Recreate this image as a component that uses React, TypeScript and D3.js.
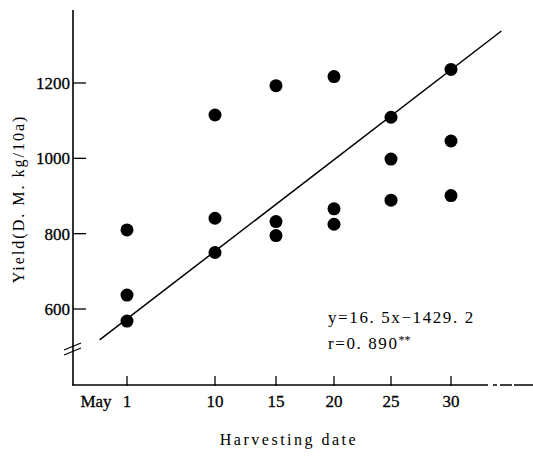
import React, { useEffect, useRef } from 'react';
import * as d3 from 'd3';

// harvesting day in May and yield (D.M. kg/10a)
const days = [1, 1, 1, 10, 10, 10, 15, 15, 15, 20, 20, 20, 25, 25, 25, 30, 30, 30];
const yields = [810, 637, 568, 1115, 841, 750, 1193, 832, 795, 1217, 866, 825, 1109, 998, 889, 1236, 1046, 901];

const xTicks = [1, 10, 15, 20, 25, 30];
const yTicks = [600, 800, 1000, 1200];

// regression line as drawn on the figure
const fitX = [-1.8, 34.2];
const fitY = [518, 1338];

const equation = 'y=16. 5x\u22121429. 2';
const corr = 'r=0. 890';
const signif = '**';

export default function App() {
  const svgRef = useRef<SVGSVGElement>(null);

  useEffect(() => {
    const svg = d3.select(svgRef.current);
    svg.selectAll('*').remove();

    const font = '"Liberation Serif", "DejaVu Serif", serif';

    // the printed x axis is not evenly spaced
    const x = d3.scaleLinear()
      .domain(xTicks)
      .range([127, 215, 276, 334, 391, 451]);
    const y = d3.scaleLinear().domain([600, 1200]).range([309, 83]);

    const axisX = 73;
    const axisY = 385;

    // y axis
    svg.append('line')
      .attr('x1', axisX).attr('x2', axisX)
      .attr('y1', 10).attr('y2', axisY)
      .attr('stroke', '#000').attr('stroke-width', 1.6);

    svg.selectAll('.ytick')
      .data(yTicks)
      .join('line')
      .attr('x1', axisX).attr('x2', axisX + 13)
      .attr('y1', d => y(d)).attr('y2', d => y(d))
      .attr('stroke', '#000').attr('stroke-width', 1.3);

    svg.selectAll('.ylab')
      .data(yTicks)
      .join('text')
      .attr('x', axisX - 3)
      .attr('y', d => y(d) + 6)
      .attr('text-anchor', 'end')
      .style('font-family', font)
      .style('font-size', '17px')
      .style('stroke', '#000').style('stroke-width', 0.3)
      .text(d => d);

    // axis break
    [0, 5].forEach(off => {
      svg.append('line')
        .attr('x1', 64).attr('y1', 350 + off)
        .attr('x2', 81).attr('y2', 343 + off)
        .attr('stroke', '#000').attr('stroke-width', 1.2);
    });

    // x axis
    svg.append('line')
      .attr('x1', axisX - 1).attr('x2', 485)
      .attr('y1', axisY).attr('y2', axisY)
      .attr('stroke', '#000').attr('stroke-width', 1.6);
    svg.append('line')
      .attr('x1', 485).attr('x2', 533)
      .attr('y1', axisY).attr('y2', axisY)
      .attr('stroke', '#000').attr('stroke-width', 1.6)
      .attr('stroke-dasharray', '3,5,4,3,12,2,20,0');

    svg.selectAll('.xtick')
      .data(xTicks)
      .join('line')
      .attr('x1', d => x(d)).attr('x2', d => x(d))
      .attr('y1', axisY - 9).attr('y2', axisY + 1)
      .attr('stroke', '#000').attr('stroke-width', 1.3);

    svg.selectAll('.xlab')
      .data(xTicks)
      .join('text')
      .attr('x', d => x(d))
      .attr('y', 407)
      .attr('text-anchor', 'middle')
      .style('font-family', font)
      .style('font-size', '17px')
      .style('stroke', '#000').style('stroke-width', 0.3)
      .text(d => d);

    svg.append('text')
      .attr('x', 96).attr('y', 407)
      .attr('text-anchor', 'middle')
      .style('font-family', font)
      .style('font-size', '17px')
      .style('stroke', '#000').style('stroke-width', 0.3)
      .text('May');

    // regression line
    const line = d3.line<number>()
      .x(d => x(fitX[d]))
      .y(d => y(fitY[d]));
    svg.append('path')
      .datum([0, 1])
      .attr('d', line)
      .attr('fill', 'none')
      .attr('stroke', '#000')
      .attr('stroke-width', 1.5);

    // points
    svg.selectAll('.pt')
      .data(days)
      .join('circle')
      .attr('cx', d => x(d))
      .attr('cy', (d, i) => y(yields[i]))
      .attr('r', 6.5)
      .attr('fill', '#000');

    // equation
    svg.append('text')
      .attr('x', 328).attr('y', 323)
      .style('font-family', font)
      .style('font-size', '17px')
      .style('letter-spacing', '1.6px')
      .text(equation);
    const r = svg.append('text')
      .attr('x', 328).attr('y', 349)
      .style('font-family', font)
      .style('font-size', '17px')
      .style('letter-spacing', '1.6px');
    r.append('tspan').text(corr);
    r.append('tspan')
      .attr('dy', -5)
      .style('font-size', '12px')
      .style('letter-spacing', '0px')
      .text(signif);

    // axis titles
    svg.append('text')
      .attr('transform', 'translate(24,199) rotate(-90)')
      .attr('text-anchor', 'middle')
      .style('font-family', font)
      .style('font-size', '16px')
      .style('letter-spacing', '2px')
      .text('Yield(D. M.  kg/10a)');

    svg.append('text')
      .attr('x', 289).attr('y', 445)
      .attr('text-anchor', 'middle')
      .style('font-family', font)
      .style('font-size', '16px')
      .style('letter-spacing', '2.5px')
      .text('Harvesting date');
  }, []);

  return (
    <svg
      ref={svgRef}
      width={533}
      height={456}
      style={{ position: 'absolute', left: 0, top: 0, background: '#fff' }}
    />
  );
}
